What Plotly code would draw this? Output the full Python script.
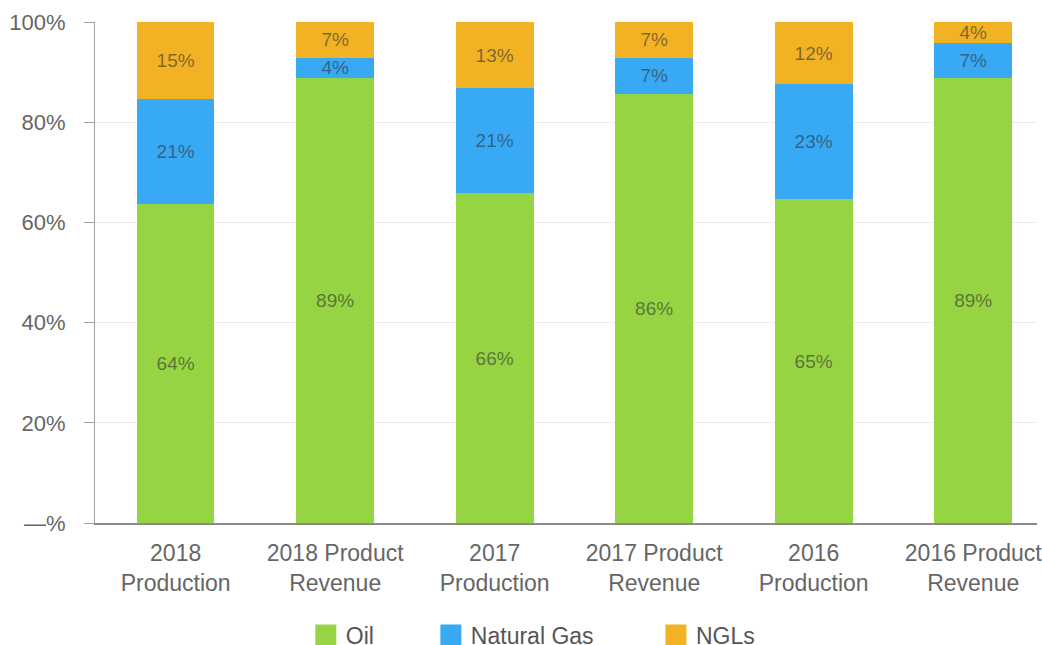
import plotly.graph_objects as go

categories = ["2018<br>Production", "2018 Product<br>Revenue", "2017<br>Production",
              "2017 Product<br>Revenue", "2016<br>Production", "2016 Product<br>Revenue"]
oil = [63.6, 88.8, 65.8, 85.6, 64.6, 88.8]
natural_gas = [21.0, 4.1, 21.0, 7.3, 23.0, 7.1]
ngls = [15.4, 7.1, 13.2, 7.1, 12.4, 4.1]

series_names = ["Oil", "Natural Gas", "NGLs"]
series_colors = ["#97D443", "#38A9F5", "#F1B323"]
series_values = [oil, natural_gas, ngls]
legend_ids = ["legend", "legend2", "legend3"]
legend_x = [0.2935, 0.4135, 0.6295]

font_family = "Liberation Sans, Arial, sans-serif"

fig = go.Figure()
for name, vals, color in zip(series_names, series_values, series_colors):
    fig.add_trace(go.Bar(
        name=name, x=categories, y=vals,
        marker=dict(color=color, line=dict(width=0)),
        texttemplate="%{y:.0f}%",
        textposition="inside", insidetextanchor="middle",
        constraintext="none",
        textfont=dict(family=font_family, size=19, color="rgba(50,50,50,0.6)"),
        hoverinfo="skip", showlegend=False,
    ))

# legend entries (larger square swatches)
for name, color, lid in zip(series_names, series_colors, legend_ids):
    fig.add_trace(go.Scatter(
        name=name, x=[None], y=[None], mode="markers",
        marker=dict(symbol="square", size=18, color=color, line=dict(color=color, width=5)),
        legend=lid, showlegend=True, hoverinfo="skip",
    ))

legend_common = dict(orientation="h", xref="container", yref="container",
                     xanchor="left", yanchor="middle", y=0.0155,
                     font=dict(size=23, color="#555555"), bgcolor="rgba(0,0,0,0)")

fig.update_layout(
    barmode="stack",
    width=1042, height=645,
    margin=dict(l=95, r=0, t=22, b=122, pad=0),
    paper_bgcolor="white", plot_bgcolor="white",
    bargap=0.513,
    font=dict(family=font_family, color="#666666"),
    showlegend=True,
    legend=dict(x=legend_x[0], **legend_common),
    legend2=dict(x=legend_x[1], **legend_common),
    legend3=dict(x=legend_x[2], **legend_common),
    xaxis=dict(range=[-0.5056, 5.40], showgrid=False, showline=True, linecolor="#8a8a8a",
               linewidth=2, ticks="", tickfont=dict(size=23, color="#666666"),
               ticklabelstandoff=8, fixedrange=True),
    yaxis=dict(range=[0, 100], tickvals=[0, 20, 40, 60, 80, 100],
               ticktext=["—%", "20%", "40%", "60%", "80%", "100%"],
               showgrid=True, gridcolor="#ececec", gridwidth=1,
               showline=True, linecolor="#a0a0a0", linewidth=1,
               ticks="outside", ticklen=10, tickcolor="#a0a0a0",
               ticklabelstandoff=14,
               tickfont=dict(size=22, color="#666666"), zeroline=False, fixedrange=True),
)

fig.write_html("out.html")
